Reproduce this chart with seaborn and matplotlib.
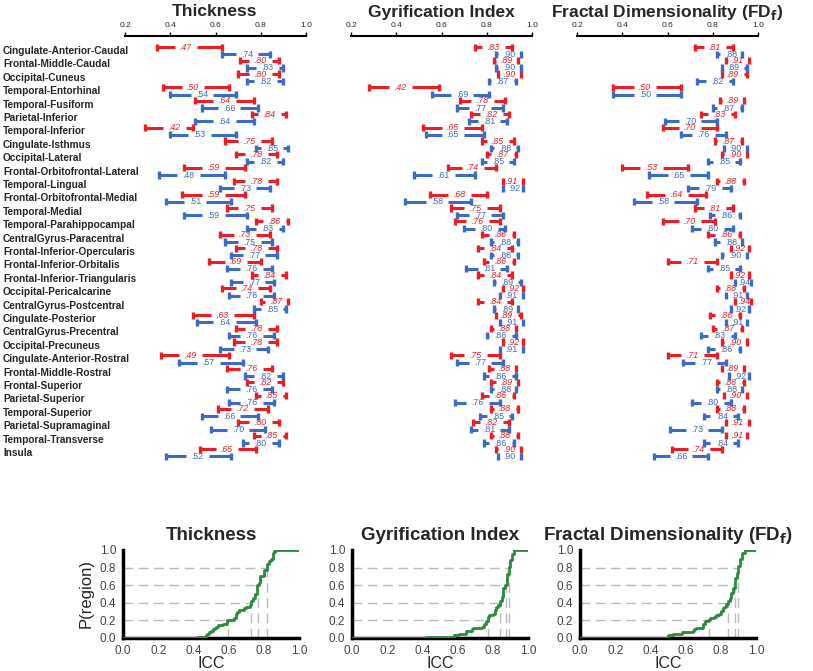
"""Test-retest ICC intervals per region (three cortical measures) plus ECDFs."""
import matplotlib

matplotlib.use("Agg")
import matplotlib.pyplot as plt
import matplotlib.transforms as mtransforms
import numpy as np
import seaborn as sns

regions = [
    "Cingulate-Anterior-Caudal", "Frontal-Middle-Caudal", "Occipital-Cuneus",
    "Temporal-Entorhinal", "Temporal-Fusiform", "Parietal-Inferior",
    "Temporal-Inferior", "Cingulate-Isthmus", "Occipital-Lateral",
    "Frontal-Orbitofrontal-Lateral", "Temporal-Lingual",
    "Frontal-Orbitofrontal-Medial", "Temporal-Medial", "Temporal-Parahippocampal",
    "CentralGyrus-Paracentral", "Frontal-Inferior-Opercularis",
    "Frontal-Inferior-Orbitalis", "Frontal-Inferior-Triangularis",
    "Occipital-Pericalcarine", "CentralGyrus-Postcentral", "Cingulate-Posterior",
    "CentralGyrus-Precentral", "Occipital-Precuneus", "Cingulate-Anterior-Rostral",
    "Frontal-Middle-Rostral", "Frontal-Superior", "Parietal-Superior",
    "Temporal-Superior", "Parietal-Supramaginal", "Temporal-Transverse", "Insula",
]

# Thickness
thick_red = [.47, .80, .80, .50, .64, .84, .42, .75, .78, .59, .78, .59, .75, .86, .73, .78,
             .69, .84, .74, .87, .63, .78, .78, .49, .76, .82, .85, .72, .80, .85, .65]
thick_red_lo = [.34, .71, .70, .37, .51, .76, .29, .64, .69, .46, .68, .45, .65, .78, .62, .69,
                .57, .76, .63, .80, .50, .69, .68, .36, .65, .74, .78, .61, .70, .77, .53]
thick_red_hi = [.63, .88, .88, .66, .77, .91, .50, .85, .87, .73, .87, .73, .85, .92, .84, .87,
                .80, .91, .84, .92, .77, .87, .87, .66, .85, .90, .91, .83, .88, .91, .78]
thick_blue = [.74, .83, .82, .54, .66, .64, .53, .85, .82, .48, .73, .51, .59, .83, .75, .77,
              .76, .77, .76, .85, .64, .76, .73, .57, .82, .76, .76, .66, .70, .80, .52]
thick_blue_lo = [.63, .74, .74, .40, .54, .51, .40, .78, .74, .35, .62, .38, .46, .74, .64, .67,
                 .65, .67, .66, .77, .52, .66, .62, .44, .73, .65, .66, .54, .58, .72, .38]
thick_blue_hi = [.84, .90, .90, .69, .79, .77, .69, .92, .90, .64, .84, .67, .74, .90, .85, .87,
                 .85, .86, .86, .91, .78, .86, .83, .72, .90, .85, .86, .79, .82, .88, .67]

# Gyrification index
gi_red = [.83, .89, .90, .42, .78, .82, .65, .85, .87, .74, .91, .68, .75, .76, .86, .84,
          .86, .84, .92, .84, .89, .88, .92, .75, .88, .89, .86, .88, .82, .88, .90]
gi_red_lo = [.75, .83, .85, .28, .68, .73, .52, .78, .80, .63, .87, .55, .64, .66, .78, .76,
             .79, .76, .87, .76, .84, .82, .87, .64, .81, .82, .78, .82, .74, .82, .84]
gi_red_hi = [.91, .94, .95, .59, .88, .90, .78, .92, .93, .84, .96, .80, .86, .86, .92, .91,
             .92, .91, .96, .91, .95, .93, .96, .86, .93, .94, .92, .94, .90, .94, .95]
gi_blue = [.90, .90, .87, .69, .77, .81, .65, .88, .85, .61, .92, .58, .77, .80, .88, .88,
           .81, .89, .91, .89, .91, .86, .91, .77, .86, .88, .76, .85, .81, .86, .90]
gi_blue_lo = [.84, .84, .81, .56, .67, .72, .53, .82, .78, .48, .87, .44, .67, .70, .82, .82,
              .71, .83, .86, .83, .86, .80, .86, .67, .79, .82, .66, .77, .73, .79, .85]
gi_blue_hi = [.95, .95, .93, .81, .87, .89, .79, .94, .92, .75, .96, .73, .87, .88, .94, .94,
              .89, .95, .96, .94, .96, .93, .96, .87, .93, .93, .86, .91, .90, .92, .95]

# Fractal dimensionality
fd_red = [.81, .91, .89, .50, .89, .83, .70, .87, .90, .53, .88, .64, .81, .70, .86, .92,
          .71, .92, .88, .94, .86, .87, .90, .71, .89, .88, .90, .88, .91, .91, .74]
fd_red_lo = [.72, .86, .84, .36, .83, .75, .58, .81, .84, .40, .82, .51, .72, .58, .78, .88,
             .60, .88, .82, .90, .79, .80, .84, .60, .84, .82, .85, .82, .86, .86, .62]
fd_red_hi = [.89, .96, .95, .66, .94, .90, .82, .93, .95, .69, .94, .77, .89, .81, .92, .96,
             .82, .96, .94, .97, .92, .93, .95, .82, .94, .94, .95, .94, .96, .95, .84]
fd_blue = [.88, .89, .82, .50, .87, .70, .76, .90, .85, .65, .79, .58, .86, .80, .88, .90,
           .85, .94, .91, .92, .91, .83, .86, .77, .92, .88, .80, .84, .73, .84, .66]
fd_blue_lo = [.82, .84, .73, .36, .80, .59, .66, .85, .78, .52, .69, .45, .79, .71, .81, .84,
              .78, .90, .86, .88, .86, .75, .78, .67, .87, .82, .71, .76, .61, .76, .54]
fd_blue_hi = [.93, .95, .89, .66, .93, .82, .86, .95, .92, .78, .88, .73, .92, .89, .93, .95,
              .92, .97, .95, .96, .95, .90, .92, .86, .96, .93, .88, .91, .84, .91, .78]

titles = ["Thickness", "Gyrification Index", r"Fractal Dimensionality (FD$_{\mathbf{f}}$)"]
quantile_levels = [0.2, 0.4, 0.6, 0.8]

RED = "#ee1c25"
BLUE = "#3a6cc6"
GREEN = "#2b8a3e"
FONT = ["Liberation Sans", "DejaVu Sans"]

sns.set_style("white")
plt.rcParams["font.family"] = FONT


def draw_intervals(ax, est, lo, hi, offset, color, italic):
    gap = 0.05
    for i, (e, l, h) in enumerate(zip(est, lo, hi)):
        y = i + offset
        if e - gap > l:
            ax.hlines(y, l, e - gap, color=color, lw=2.2)
        if e + gap < h:
            ax.hlines(y, e + gap, h, color=color, lw=2.2)
        ax.vlines([l, h], y - 0.27, y + 0.27, color=color, lw=2.4)
        ax.text(e, y, f"{e:.2f}"[1:], color=color, ha="center", va="center",
                fontsize=6.3, style="italic" if italic else "normal")


fig = plt.figure(figsize=(8.13, 6.71), dpi=100)

top_lefts = [125 / 813, 351 / 813, 577 / 813]
series = [
    (thick_red, thick_red_lo, thick_red_hi, thick_blue, thick_blue_lo, thick_blue_hi),
    (gi_red, gi_red_lo, gi_red_hi, gi_blue, gi_blue_lo, gi_blue_hi),
    (fd_red, fd_red_lo, fd_red_hi, fd_blue, fd_blue_lo, fd_blue_hi),
]

for k, (left, data) in enumerate(zip(top_lefts, series)):
    ax = fig.add_axes([left, 1 - 465 / 671, 181 / 813, 429 / 671])
    r, rlo, rhi, b, blo, bhi = data
    draw_intervals(ax, r, rlo, rhi, -0.28, RED, True)
    draw_intervals(ax, b, blo, bhi, 0.26, BLUE, False)
    ax.set_xlim(0.2, 1.0)
    ax.set_ylim(30.9, -1.12)
    ax.xaxis.tick_top()
    ax.set_xticks([0.2, 0.4, 0.6, 0.8, 1.0])
    ax.set_xticklabels(["0.2", "0.4", "0.6", "0.8", "1.0"], fontsize=6)
    ax.set_yticks([])
    ax.tick_params(axis="x", direction="out", length=3, width=1, pad=2, color="black")
    for side in ["left", "right", "bottom"]:
        ax.spines[side].set_visible(False)
    ax.spines["top"].set_linewidth(1.5)
    ax.spines["top"].set_color("black")
    fig.text(left + 90 / 813, 1 - 12 / 671, titles[k], ha="center", va="center",
             fontsize=12.5, fontweight="bold")
    if k == 0:
        trans = mtransforms.blended_transform_factory(fig.transFigure, ax.transData)
        for i, name in enumerate(regions):
            ax.text(3 / 813, i, name, transform=trans, ha="left", va="center",
                    fontsize=7.3, fontweight="bold")

bottom_lefts = [123 / 813, 352 / 813, 580 / 813]
for k, (left, data) in enumerate(zip(bottom_lefts, series)):
    ax = fig.add_axes([left, 1 - 638 / 671, 176 / 813, 88 / 671])
    values = np.concatenate([data[0], data[3]])
    for q in quantile_levels:
        v = np.quantile(values, q)
        ax.hlines(q, 0, v, color="#bbbbbb", lw=1, ls=(0, (7, 4)), zorder=1)
        ax.vlines(v, 0, q, color="#bbbbbb", lw=1, ls=(0, (7, 4)), zorder=1)
    sns.ecdfplot(x=values, ax=ax, color=GREEN, linewidth=2, zorder=3)
    ax.plot([0, values.min()], [0, 0], color=GREEN, lw=2, zorder=3)
    ax.plot([values.max(), 1], [1, 1], color=GREEN, lw=2, zorder=3)
    ax.set_xlim(0, 1)
    ax.set_ylim(0, 1)
    ticks = [0, 0.2, 0.4, 0.6, 0.8, 1.0]
    ax.set_xticks(ticks)
    ax.set_yticks(ticks)
    ax.set_xticklabels([f"{t:.1f}" for t in ticks])
    ax.set_yticklabels([f"{t:.1f}" for t in ticks])
    ax.tick_params(direction="out", length=3, width=1.5, color="black",
                   labelcolor="#444444", labelsize=8.5, pad=2)
    for side in ["top", "right"]:
        ax.spines[side].set_visible(False)
    for side in ["left", "bottom"]:
        ax.spines[side].set_linewidth(2.5)
        ax.spines[side].set_color("black")
    ax.set_title(titles[k], fontsize=13.5, fontweight="bold", pad=7)
    ax.set_xlabel("ICC", fontsize=11.5, labelpad=-1)
    if k == 0:
        ax.set_ylabel("P(region)", fontsize=12, labelpad=4)
    else:
        ax.set_ylabel("")

fig.savefig("out.png", dpi=100)
